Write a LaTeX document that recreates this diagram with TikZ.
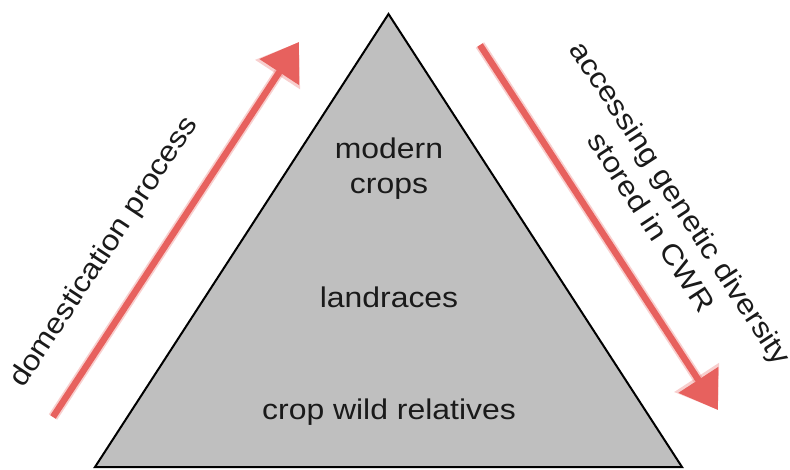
\documentclass[tikz,border=0pt]{standalone}
\usepackage{fontspec}
\setmainfont{Liberation Sans}[FakeStretch=1.12]
\usetikzlibrary{arrows.meta}
\definecolor{arrowred}{RGB}{231,97,94}
\definecolor{pyrgray}{RGB}{191,191,191}
\definecolor{txt}{RGB}{26,26,26}
\begin{document}
\begin{tikzpicture}[x=1pt,y=-1pt,
  lbl/.style={font=\fontsize{28.5}{35}\selectfont, text=txt, inner sep=0pt, align=center},
  pyramid/.style={fill=pyrgray, draw=black, line width=2pt, line join=miter},
  redhalo/.style={draw=arrowred, opacity=0.3, line width=10pt, -{Triangle[length=39pt,width=51pt]}},
  redarrow/.style={draw=arrowred, line width=6.5pt, -{Triangle[length=36pt,width=46pt]}}]
\useasboundingbox (0,0) rectangle (790,469);
% pyramid
\coordinate (apex) at (388.5,14);
\coordinate (bl) at (95,467);
\coordinate (br) at (682,467);
\draw[pyramid] (apex) -- (br) -- (bl) -- cycle;
% labels inside
\node[lbl] (modern) at (389,169) {modern\\crops};
\node[lbl, anchor=base] (land) at (389,307) {landraces};
\node[lbl, anchor=base] (cwr) at (389,419) {crop wild relatives};
% arrows
\coordinate (la0) at (53,417);
\coordinate (la1) at (299,42);
\coordinate (ra0) at (480,45);
\coordinate (ra1) at (718,410);
\draw[redhalo] (la0) -- (la1);
\draw[redarrow] (la0) -- (la1);
\draw[redhalo] (ra0) -- (ra1);
\draw[redarrow] (ra0) -- (ra1);
% rotated labels
\node[lbl, anchor=base, rotate=56.6] (dom) at (110.7,256.3) {domestication process};
\node[lbl, rotate=-56.9] (acc) at (666.5,212.4) {accessing genetic diversity\\stored in CWR};
\end{tikzpicture}
\end{document}
